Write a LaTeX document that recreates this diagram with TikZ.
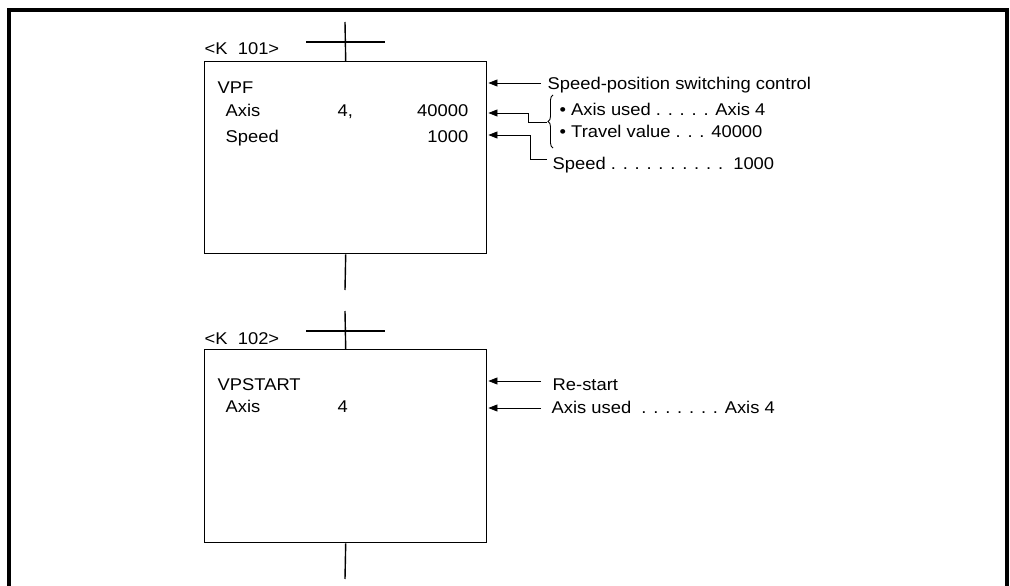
\documentclass[tikz,border=0pt]{standalone}
\usepackage{fontspec}
\setmainfont{Liberation Sans}[FakeStretch=1.08]
\usetikzlibrary{arrows.meta,decorations.pathreplacing}

\tikzset{
  sfcbox/.style={draw,line width=1.4pt,anchor=north west,minimum width=282pt,minimum height=192pt,inner sep=0pt},
  txt/.style={anchor=base west,inner sep=0pt,font=\fontsize{17}{20}\selectfont},
  num/.style={txt,anchor=base east},
  arr/.style={line width=0.8pt,-{Triangle[length=9pt,width=7pt]}},
}

\begin{document}
\begin{tikzpicture}[x=1pt,y=-1pt,line width=1.4pt]
  \useasboundingbox (0,0) rectangle (1010,586);
  \draw[line width=4pt] (9,586) -- (9,10) -- (1007,10) -- (1007,586);
  % step K 101
  \node[sfcbox] (k101) at (204,61) {};
  \node[txt] (lbl101) at (204,55) {<K\ \ 101>};
  \coordinate (tr1) at (345,22);
  \draw (tr1) -- (k101.north);
  \draw (306,42) -- (385,42);
  \node[txt] (vpf) at (217,94) {VPF};
  \node[txt] (ax1) at (225,117) {Axis};
  \node[txt] (ax1n) at (337,117) {4,};
  \node[num] (trv) at (469,117) {40000};
  \node[txt] (spd) at (225,142) {Speed};
  \node[num] (spdn) at (469,142) {1000};
  % comments K 101
  \node[txt] (ctl) at (547,89) {Speed-position switching control};
  \node[txt] (axu) at (559,115) {\textbullet\ Axis used . . . . . Axis 4};
  \node[txt] (tvl) at (559,137) {\textbullet\ Travel value . . . 40000};
  \node[txt] (spc) at (552,169) {Speed . . . . . . . . . .\ \ 1000};
  \draw[line width=0.9pt,decorate,decoration={brace,amplitude=5pt}] (553,148) -- (553,95);
  \coordinate (brt) at (547,122);
  \coordinate (a1) at (541,83);
  \coordinate (s3) at (547,159);
  \draw[arr] (a1) -- ([xshift=1pt]a1 -| k101.east);
  \draw[arr] (brt) -- (528,122) |- ([xshift=1pt]k101.east |- 0,113);
  \draw[arr] (s3) -- (530,159) |- ([xshift=1pt]k101.east |- 0,135);
  \coordinate (b1) at (345,290);
  \draw (k101.south) -- (b1);
  % step K 102
  \node[sfcbox,minimum height=193pt] (k102) at (204,349) {};
  \node[txt] (lbl102) at (204,344) {<K\ \ 102>};
  \coordinate (tr2) at (345,311);
  \draw (tr2) -- (k102.north);
  \draw (306,331) -- (385,331);
  \node[txt] (vps) at (217,390) {VPSTART};
  \node[txt] (ax2) at (225,412) {Axis};
  \node[txt] (ax2n) at (337,412) {4};
  % comments K 102
  \node[txt] (rst) at (552,390) {Re-start};
  \node[txt] (axu2) at (551,413) {Axis used\ \ . . . . . . . Axis 4};
  \coordinate (a4) at (541,381);
  \coordinate (a5) at (541,408);
  \draw[arr] (a4) -- ([xshift=1pt]a4 -| k102.east);
  \draw[arr] (a5) -- ([xshift=1pt]a5 -| k102.east);
  \coordinate (b2) at (345,579);
  \draw (k102.south) -- (b2);
\end{tikzpicture}
\end{document}
